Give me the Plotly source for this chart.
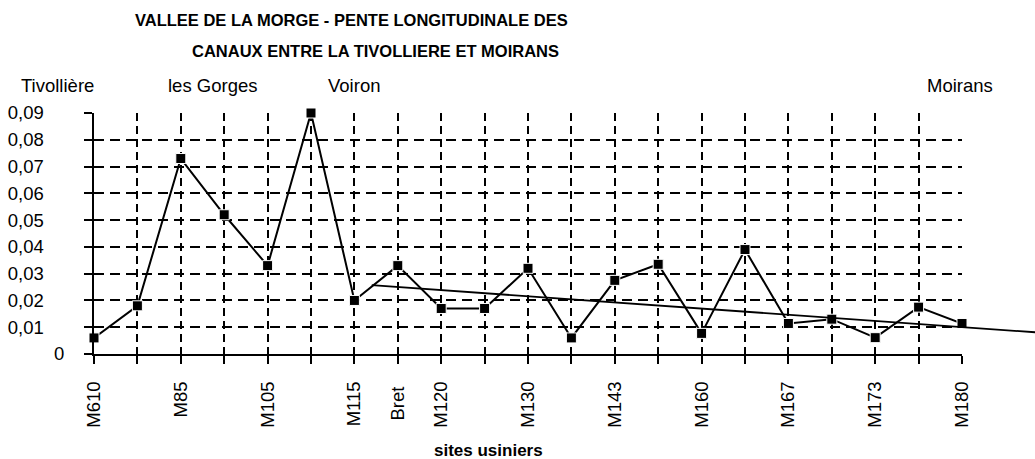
import plotly.graph_objects as go

# ---------------- data ----------------
sites = ["M610", "", "M85", "", "M105", "", "M115", "Bret", "M120", "", "M130", "",
         "M143", "", "M160", "", "M167", "", "M173", "", "M180"]
pente = [0.006, 0.018, 0.073, 0.052, 0.033, 0.090, 0.020, 0.033, 0.017, 0.017, 0.032,
         0.006, 0.0275, 0.0335, 0.0077, 0.039, 0.0114, 0.013, 0.0061, 0.0175, 0.0114]
trend_x = [6.4, 21.7]
trend_y = [0.0257, 0.0081]
y_ticks = [0, 0.01, 0.02, 0.03, 0.04, 0.05, 0.06, 0.07, 0.08, 0.09]
y_tick_labels = ["0", "0,01", "0,02", "0,03", "0,04", "0,05", "0,06", "0,07", "0,08", "0,09"]
place_names = ["Tivollière", "les Gorges", "Voiron", "Moirans"]
place_pos = [-0.85, 2.74, 6.0, 19.95]
title_lines = ["VALLEE DE LA MORGE - PENTE LONGITUDINALE DES",
               "CANAUX ENTRE LA TIVOLLIERE ET MOIRANS"]
x_title = "sites usiniers"

# ---------------- layout constants ----------------
W, H = 1035, 459
ML, MR, MT, MB = 94, 0, 113, 105
PLOT_W = W - ML - MR
MAIN_W = 868  # pixel width of the category axis
frac = MAIN_W / PLOT_W
n = len(pente)
x_idx = list(range(n))
x2_max = (n - 1) / frac

FONT = "Liberation Sans, Arial, sans-serif"
FS = 18.5
NB = "\u00a0"

# y labels: Excel shows the "0" closer to the axis than the decimal labels
y_text = [t if t == "0" else t + NB * 4 for t in y_tick_labels]
# x labels: short label "Bret" sits a little lower (centred) in the original
x_text = [s + NB if s == "Bret" else s for s in sites]


def px_to_paper_x(px):
    return (px - ML) / PLOT_W


def px_to_paper_y(py):
    return (H - MB - py) / (H - MT - MB)


fig = go.Figure()
fig.add_trace(go.Scatter(
    x=x_idx, y=pente, mode="lines+markers",
    line=dict(color="black", width=2),
    marker=dict(symbol="square", size=10, color="black",
                line=dict(color="white", width=1)),
    cliponaxis=False, showlegend=False, xaxis="x", yaxis="y"))
fig.add_trace(go.Scatter(
    x=trend_x, y=trend_y, mode="lines",
    line=dict(color="black", width=1.8),
    showlegend=False, xaxis="x2", yaxis="y2", hoverinfo="skip"))

annotations = []
for txt, cx, cy in zip(title_lines, [351, 375], [20, 51]):
    annotations.append(dict(text="<b>%s</b>" % txt, xref="paper", yref="paper",
                            x=px_to_paper_x(cx), y=px_to_paper_y(cy),
                            xanchor="center", yanchor="middle", showarrow=False,
                            font=dict(family=FONT, size=16.5, color="black")))
for name, pos in zip(place_names, place_pos):
    annotations.append(dict(text=name, xref="paper", yref="paper",
                            x=pos / (n - 1) * frac, y=px_to_paper_y(85),
                            xanchor="center", yanchor="middle", showarrow=False,
                            font=dict(family=FONT, size=FS, color="black")))
annotations.append(dict(text="<b>%s</b>" % x_title, xref="paper", yref="paper",
                        x=px_to_paper_x(488), y=px_to_paper_y(450),
                        xanchor="center", yanchor="middle", showarrow=False,
                        font=dict(family=FONT, size=17, color="black")))

fig.update_layout(
    width=W, height=H, autosize=False,
    margin=dict(l=ML, r=MR, t=MT, b=MB, pad=0, autoexpand=False),
    paper_bgcolor="white", plot_bgcolor="rgba(0,0,0,0)",
    font=dict(family=FONT, size=FS, color="black"),
    showlegend=False,
    annotations=annotations,
    xaxis=dict(domain=[0, frac], range=[0, n - 1], tickmode="array",
               tickvals=x_idx, ticktext=x_text, tickangle=-90,
               showline=True, linecolor="black", linewidth=2,
               ticks="outside", ticklen=8, tickwidth=2, tickcolor="black",
               showgrid=True, gridcolor="black", gridwidth=1.8, griddash="8px,5px",
               zeroline=False, ticklabelstandoff=10, automargin=False,
               tickfont=dict(family=FONT, size=FS, color="black"), anchor="y"),
    yaxis=dict(range=[0, 0.09], tickmode="array", tickvals=y_ticks,
               ticktext=y_text,
               showline=True, linecolor="black", linewidth=2,
               ticks="outside", ticklen=8, tickwidth=2, tickcolor="black",
               showgrid=True, gridcolor="black", gridwidth=1.8, griddash="10px,6px",
               zeroline=False, ticklabelstandoff=16, automargin=False,
               tickfont=dict(family=FONT, size=FS, color="black"), anchor="x"),
    xaxis2=dict(domain=[0, 1], range=[0, x2_max], visible=False, anchor="y2",
                automargin=False),
    yaxis2=dict(domain=[0, 1], range=[0, 0.09], visible=False, anchor="x2",
                automargin=False),
)

fig.write_html("out.html", config={"displayModeBar": False},
               post_script="document.body.style.margin='0';document.body.style.padding='0';")
